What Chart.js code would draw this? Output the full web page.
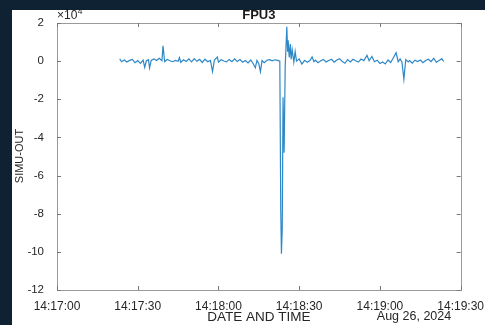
<!DOCTYPE html>
<html>
<head>
<meta charset="utf-8">
<script src="https://cdn.jsdelivr.net/npm/chart.js@4.4.1/dist/chart.umd.min.js"></script>
<style>
  html, body { margin: 0; padding: 0; background: #0e2233; }
  #wrap { position: absolute; left: 12px; top: 10px; width: 473px; height: 315px; background: #fff; }
</style>
</head>
<body>
<div id="wrap"><canvas id="fpu3"></canvas></div>
<script>
// seconds after 14:17:00 on Aug 26, 2024
const timeSec = [
  23.3, 24, 25, 26, 27, 28, 29, 30, 31, 32, 32.6, 33.2, 34, 34.4, 35, 36, 37, 38, 39, 39.4,
  40, 41, 42, 43, 44, 45, 45.5, 46, 47, 48, 49, 50, 51, 52, 53, 54, 55, 56, 57, 57.8,
  58.5, 59.6, 60, 61, 62, 63, 64, 65, 66, 67, 68, 69, 70, 71, 72, 73, 73.7, 74.3, 75, 75.6,
  76.2, 77, 78, 79, 80, 81, 82, 82.8, 83.15, 83.4, 83.7, 84.0, 84.4, 84.8, 85.4, 85.7, 85.9, 86.3, 86.7, 87.0,
  87.4, 88.0, 88.5, 89, 90, 91, 92, 93, 94, 94.8, 95.5, 96, 97, 98, 99, 100, 101, 102, 103, 104,
  105, 106, 107, 108, 109, 110, 111, 112, 113, 114, 115.2, 116, 117, 118, 119, 120, 121, 122, 123, 124,
  125, 126, 126.8, 127.5, 128.2, 128.9, 129.6, 130.5, 131, 132, 133, 134, 135, 136, 137, 138, 139, 140, 141, 142,
  143, 143.7
];
const simuOut = [
  1200, -300, 600, -500, 400, 900, -800, 300, -1200, 500, -3300, 200, 800, -3600, 400, 1200, 300, 1500, 200, 8000,
  -200, 900, 200, -300, 400, -100, 1800, -600, 700, -200, 1200, -400, 1300, -100, 900, -700, 1000, -300, 400, -5500,
  600, 2200, -500, 700, 100, -400, 900, -300, 1200, -200, 800, -600, 300, -900, 600, -1500, -3500, 400, -1400, -5600,
  300, -800, 500, 800, 200, 700, 400, 0, -78000, -101000, -88000, -19000, -48000, -3000, 18000, 5000, 11000, 2000, 9000, 1000,
  6000, -500, 5000, 0, 1200, -1500, 400, -600, 300, 2200, -300, 500, -800, 200, 900, -400, 300, 1000, -500, 600,
  1300, -200, -1100, 800, -400, 1000, 200, -500, 1100, 300, 3000, 200, 2500, -300, 500, -1200, -400, -1500, 600, -700,
  1800, 4400, -300, 1200, -600, -9500, 800, -400, 300, -1000, 500, -200, 600, -800, 300, 1000, -300, 1500, -600, 400,
  1300, -200
];
const xTicks = [0, 30, 60, 90, 120, 150];
const xTickLabels = ['14:17:00', '14:17:30', '14:18:00', '14:18:30', '14:19:00', '14:19:30'];
const yTicks = [20000, 0, -20000, -40000, -60000, -80000, -100000, -120000];

const points = timeSec.map(function (t, i) { return { x: t, y: simuOut[i] }; });
const fontFam = 'Liberation Sans, Arial, sans-serif';

// MATLAB style box with inward ticks, plus title and labels
const matlabBox = {
  id: 'matlabBox',
  afterDraw: function (chart) {
    const ctx = chart.ctx;
    const a = chart.chartArea;
    const xs = chart.scales.x, ys = chart.scales.y;
    ctx.save();
    ctx.strokeStyle = '#9a9a9a';
    ctx.lineWidth = 1;
    ctx.strokeRect(Math.round(a.left) + 0.5, Math.round(a.top) + 0.5,
      Math.round(a.right - a.left), Math.round(a.bottom - a.top));
    ctx.strokeStyle = '#777';
    ctx.beginPath();
    xTicks.forEach(function (v) {
      const px = Math.round(xs.getPixelForValue(v)) + 0.5;
      ctx.moveTo(px, a.bottom); ctx.lineTo(px, a.bottom - 4);
      ctx.moveTo(px, a.top); ctx.lineTo(px, a.top + 4);
    });
    yTicks.forEach(function (v) {
      const py = Math.round(ys.getPixelForValue(v)) + 0.5;
      ctx.moveTo(a.left, py); ctx.lineTo(a.left + 4, py);
      ctx.moveTo(a.right, py); ctx.lineTo(a.right - 4, py);
    });
    ctx.stroke();

    ctx.fillStyle = '#1a1a1a';
    ctx.textAlign = 'center';
    ctx.textBaseline = 'middle';
    ctx.font = 'bold 13px ' + fontFam;
    ctx.fillText('FPU3', (a.left + a.right) / 2, 5);

    ctx.font = '13.5px ' + fontFam;
    ctx.fillStyle = '#262626';
    ctx.fillText('DATE AND TIME', (a.left + a.right) / 2, 307);
    ctx.font = '12.5px ' + fontFam;
    ctx.fillText('Aug 26, 2024', 402, 307);

    ctx.textAlign = 'left';
    ctx.font = '12px ' + fontFam;
    const base = '\u00d710';
    ctx.fillText(base, a.left, 6);
    const w = ctx.measureText(base).width;
    ctx.font = '8.5px ' + fontFam;
    ctx.fillText('4', a.left + w + 0.5, 2);

    ctx.save();
    ctx.translate(8, 146);
    ctx.rotate(-Math.PI / 2);
    ctx.textAlign = 'center';
    ctx.font = '11px ' + fontFam;
    ctx.fillText('SIMU-OUT', 0, 0);
    ctx.restore();
    ctx.restore();
  }
};

new Chart(document.getElementById('fpu3'), {
  type: 'line',
  data: {
    datasets: [{
      data: points,
      borderColor: '#2e88c8',
      borderWidth: 1.2,
      pointRadius: 0,
      tension: 0,
      fill: false
    }]
  },
  options: {
    responsive: true,
    maintainAspectRatio: false,
    animation: false,
    layout: { padding: { top: 13, right: 22, left: 0, bottom: 0 } },
    plugins: { legend: { display: false }, tooltip: { enabled: false }, title: { display: false } },
    scales: {
      x: {
        type: 'linear',
        min: 0, max: 150,
        afterBuildTicks: function (s) { s.ticks = xTicks.map(function (v) { return { value: v }; }); },
        afterFit: function (s) { s.height = 35; },
        grid: { display: false },
        border: { display: false },
        ticks: {
          padding: 1,
          maxRotation: 0,
          autoSkip: false,
          color: '#262626',
          font: { family: fontFam, size: 12 },
          callback: function (v) { return xTickLabels[xTicks.indexOf(v)]; }
        }
      },
      y: {
        min: -120000, max: 20000,
        afterBuildTicks: function (s) { s.ticks = yTicks.map(function (v) { return { value: v }; }); },
        afterFit: function (s) { s.width = 45; },
        grid: { display: false },
        border: { display: false },
        ticks: {
          padding: 5,
          color: '#262626',
          font: { family: fontFam, size: 11.5 },
          callback: function (v) { return String(v / 10000); }
        }
      }
    }
  },
  plugins: [matlabBox]
});
</script>
</body>
</html>
